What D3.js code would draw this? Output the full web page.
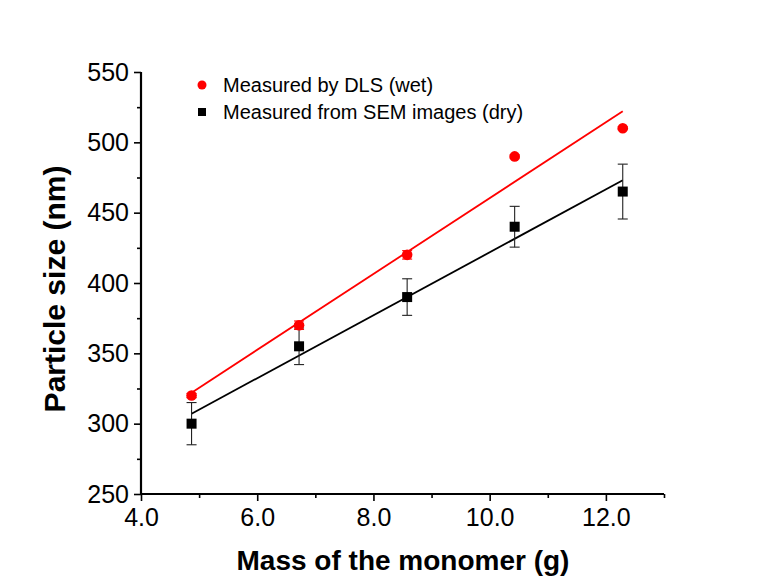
<!DOCTYPE html>
<html><head><meta charset="utf-8">
<script src="https://cdn.jsdelivr.net/npm/d3@7"></script>
<style>body{margin:0;background:#fff}svg{display:block}text{font-family:"Liberation Sans",Arial,sans-serif}</style>
</head><body>
<svg id="c" width="757" height="582"></svg>
<script>
const mass = [4.87, 6.72, 8.58, 10.43, 12.29];
const dlsSize = [320, 370, 420, 490, 510];
const dlsErr = [1.5, 3, 3, 1, 1];
const semSize = [300, 355, 390, 440, 465];
const semErr = [15, 13, 13, 14.5, 19.5];
const xTicks = [4, 6, 8, 10, 12];
const yTicks = [250, 300, 350, 400, 450, 500, 550];
const seriesNames = ["Measured by DLS (wet)", "Measured from SEM images (dry)"];
const seriesColors = ["#ff0000", "#000000"];

const svg = d3.select("#c");
const x = d3.scaleLinear().domain([4, 13]).range([141, 664]);
const y = d3.scaleLinear().domain([250, 550]).range([494, 72]);

function fit(xs, ys) {
  const mx = d3.mean(xs), my = d3.mean(ys);
  let sxy = 0, sxx = 0;
  xs.forEach((v, i) => { sxy += (v - mx) * (ys[i] - my); sxx += (v - mx) ** 2; });
  const b = sxy / sxx, a = my - b * mx;
  return v => a + b * v;
}

// axes
const xAxis = d3.axisBottom(x).tickValues(xTicks).tickFormat(d3.format(".1f")).tickSize(7).tickPadding(7);
const xMinor = d3.axisBottom(x).tickValues([5, 7, 9, 11, 13]).tickFormat("").tickSize(4);
const yAxis = d3.axisLeft(y).tickValues(yTicks).tickFormat(d3.format("d")).tickSize(7).tickPadding(5);
const yMinor = d3.axisLeft(y).tickValues([275, 325, 375, 425, 475, 525]).tickFormat("").tickSize(4);

function styleAxis(g) {
  g.select(".domain").attr("stroke", "#000").attr("stroke-width", 2.2);
  g.selectAll(".tick line").attr("stroke", "#000").attr("stroke-width", 1.6);
  g.selectAll(".tick text").attr("font-size", 25).attr("fill", "#000")
    .attr("font-family", "'Liberation Sans', Arial, sans-serif");
}
svg.append("g").attr("transform", "translate(0,494)").call(xMinor).call(styleAxis).select(".domain").remove();
svg.append("g").attr("transform", "translate(141,0)").call(yMinor).call(styleAxis).select(".domain").remove();
const gx = svg.append("g").attr("transform", "translate(0,494)").call(xAxis).call(styleAxis);
gx.select(".domain").attr("d", `M${x(4)},0H${x(13)}`);
const gy = svg.append("g").attr("transform", "translate(141,0)").call(yAxis).call(styleAxis);
gy.select(".domain").attr("d", `M0,${y(250)}V${y(550)}`);

// fit lines
const fits = [fit(mass, dlsSize), fit(mass, semSize)];
fits.forEach((f, i) => {
  svg.append("line")
    .attr("x1", x(mass[0])).attr("y1", y(f(mass[0])))
    .attr("x2", x(mass[mass.length - 1])).attr("y2", y(f(mass[mass.length - 1])))
    .attr("stroke", seriesColors[i]).attr("stroke-width", 1.8);
});

// error bars
function errBars(vals, errs, color, cap) {
  const g = svg.append("g").attr("stroke", color).attr("stroke-width", 1.1);
  mass.forEach((m, i) => {
    const cx = x(m), t = y(vals[i] + errs[i]), b = y(vals[i] - errs[i]);
    g.append("line").attr("x1", cx).attr("x2", cx).attr("y1", t).attr("y2", b);
    g.append("line").attr("x1", cx - cap).attr("x2", cx + cap).attr("y1", t).attr("y2", t);
    g.append("line").attr("x1", cx - cap).attr("x2", cx + cap).attr("y1", b).attr("y2", b);
  });
}
errBars(semSize, semErr, "#222", 5);
errBars(dlsSize, dlsErr, "#ff0000", 5);

// markers
svg.append("g").selectAll("rect").data(mass).join("rect")
  .attr("x", (d) => x(d) - 5).attr("y", (d, i) => y(semSize[i]) - 5)
  .attr("width", 10).attr("height", 10).attr("fill", "#000");
svg.append("g").selectAll("circle").data(mass).join("circle")
  .attr("cx", (d) => x(d)).attr("cy", (d, i) => y(dlsSize[i]))
  .attr("r", 5.3).attr("fill", "#ff0000");

// legend
const lg = svg.append("g");
lg.append("circle").attr("cx", 202).attr("cy", 85).attr("r", 4.5).attr("fill", seriesColors[0]);
lg.append("rect").attr("x", 198).attr("y", 108).attr("width", 8).attr("height", 8).attr("fill", seriesColors[1]);
lg.selectAll("text").data(seriesNames).join("text")
  .attr("x", 223).attr("y", (d, i) => 92 + i * 27)
  .attr("font-size", 20).attr("fill", "#000").text(d => d);

// axis titles
svg.append("text").attr("x", 403).attr("y", 570).attr("text-anchor", "middle")
  .attr("font-size", 28).attr("font-weight", "bold").text("Mass of the monomer (g)");
svg.append("text").attr("transform", "translate(65,289) rotate(-90)").attr("text-anchor", "middle")
  .attr("font-size", 30).attr("font-weight", "bold").text("Particle size (nm)");
</script>
</body></html>
